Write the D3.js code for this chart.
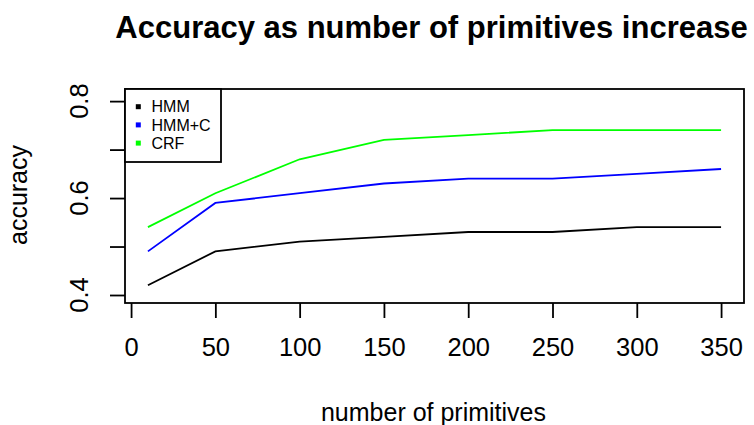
<!DOCTYPE html>
<html>
<head>
<meta charset="UTF-8">
<title>Accuracy as number of primitives increase</title>
<script src="https://d3js.org/d3.v7.min.js"></script>
<style>
  body { margin: 0; background: #fff; }
  svg { display: block; font-family: "Liberation Sans", Arial, sans-serif; }
</style>
</head>
<body>
<div id="chart"></div>
<script>
  const primitives = [10, 50, 100, 150, 200, 250, 300, 350];
  const hmm = [0.42, 0.49, 0.51, 0.52, 0.53, 0.53, 0.54, 0.54];
  const hmmC = [0.49, 0.59, 0.61, 0.63, 0.64, 0.64, 0.65, 0.66];
  const crf = [0.54, 0.61, 0.68, 0.72, 0.73, 0.74, 0.74, 0.74];
  const seriesNames = ["HMM", "HMM+C", "CRF"];
  const seriesColors = ["#000000", "#0000ff", "#00ff00"];
  const xTicks = [0, 50, 100, 150, 200, 250, 300, 350];
  const yTicks = [0.4, 0.5, 0.6, 0.7, 0.8];
  const yLabels = [0.4, 0.6, 0.8];

  const width = 754;
  const height = 425;
  const box = { left: 125, right: 744, top: 89, bottom: 303 };

  const x = d3.scaleLinear().domain([-3.6, 363.6]).range([box.left, box.right]);
  const y = d3.scaleLinear().domain([0.3835, 0.825]).range([box.bottom, box.top]);

  const svg = d3.select("#chart").append("svg")
    .attr("width", width)
    .attr("height", height);

  // box
  svg.append("rect")
    .attr("x", box.left).attr("y", box.top)
    .attr("width", box.right - box.left).attr("height", box.bottom - box.top)
    .attr("fill", "none").attr("stroke", "#000").attr("stroke-width", 1.8);

  // x axis
  const xAxis = d3.axisBottom(x).tickValues(xTicks).tickSize(15).tickPadding(20).tickFormat(d3.format("d"));
  const gx = svg.append("g").attr("transform", `translate(0,${box.bottom})`).call(xAxis);
  gx.select(".domain").remove();
  gx.selectAll(".tick line").attr("stroke", "#000").attr("stroke-width", 1.8);
  gx.selectAll(".tick text").attr("font-size", 25.5).attr("font-family", "Liberation Sans, Arial, sans-serif").attr("fill", "#000");

  // y axis
  const yAxis = d3.axisLeft(y).tickValues(yTicks).tickSize(15).tickFormat("");
  const gy = svg.append("g").attr("transform", `translate(${box.left},0)`).call(yAxis);
  gy.select(".domain").remove();
  gy.selectAll(".tick line").attr("stroke", "#000").attr("stroke-width", 1.8);

  svg.selectAll(".ylab").data(yLabels).join("text")
    .attr("class", "ylab")
    .attr("transform", d => `translate(88,${y(d)}) rotate(-90)`)
    .attr("text-anchor", "middle")
    .attr("font-size", 25.5)
    .text(d => d.toFixed(1));

  // lines
  const series = [hmm, hmmC, crf];
  const line = d3.line().x((d, i) => x(primitives[i])).y(d => y(d));
  svg.selectAll(".series").data(series).join("path")
    .attr("class", "series")
    .attr("d", line)
    .attr("fill", "none")
    .attr("stroke", (d, i) => seriesColors[i])
    .attr("stroke-width", 1.8);

  // title and axis titles
  svg.append("text")
    .attr("x", 431.5).attr("y", 38.3)
    .attr("text-anchor", "middle")
    .attr("font-size", 31).attr("font-weight", "bold")
    .text("Accuracy as number of primitives increase");

  svg.append("text")
    .attr("x", 433.5).attr("y", 421)
    .attr("text-anchor", "middle")
    .attr("font-size", 25)
    .text("number of primitives");

  svg.append("text")
    .attr("transform", `translate(26.5,195) rotate(-90)`)
    .attr("text-anchor", "middle")
    .attr("font-size", 25)
    .text("accuracy");

  // legend
  const legend = svg.append("g");
  legend.append("rect")
    .attr("x", box.left).attr("y", box.top)
    .attr("width", 96).attr("height", 73)
    .attr("fill", "#fff").attr("stroke", "#000").attr("stroke-width", 1.8);
  const items = legend.selectAll(".item").data(seriesNames).join("g")
    .attr("class", "item")
    .attr("transform", (d, i) => `translate(0,${106.7 + i * 18.2})`);
  items.append("rect")
    .attr("x", 135.8).attr("y", -2.5)
    .attr("width", 5).attr("height", 5)
    .attr("fill", (d, i) => seriesColors[i]);
  items.append("text")
    .attr("x", 151.5).attr("y", 5.6)
    .attr("font-size", 16)
    .text(d => d);
</script>
</body>
</html>
